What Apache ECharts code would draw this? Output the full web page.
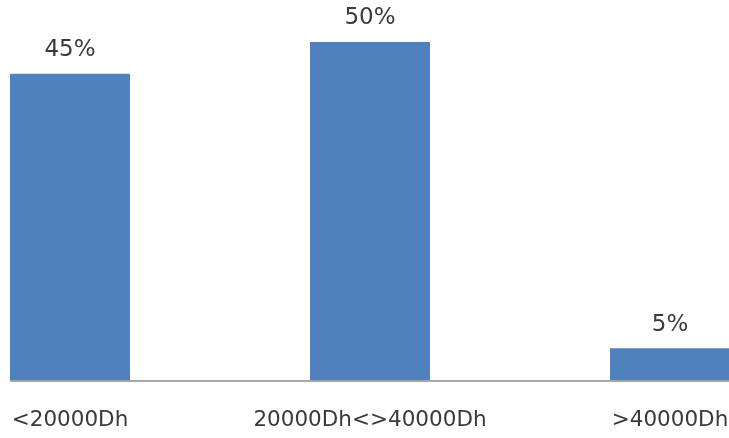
<!DOCTYPE html>
<html>
<head>
<meta charset="utf-8">
<script src="https://cdn.jsdelivr.net/npm/echarts@6/dist/echarts.min.js"></script>
<style>
html,body{margin:0;padding:0;background:#fff;}
#c{width:729px;height:438px;}
</style>
</head>
<body>
<div id="c"></div>
<script>
const categories = ['<20000Dh', '20000Dh<>40000Dh', '>40000Dh'];
const values = [45.3, 50, 4.7];
const valueLabels = ['45%', '50%', '5%'];

const chart = echarts.init(document.getElementById('c'), null, {renderer: 'canvas'});
const BAR_W = 120;
chart.setOption({
  animation: false,
  backgroundColor: '#ffffff',
  grid: {left: -80, width: 900, top: 42, bottom: 58, containLabel: false, outerBoundsMode: 'none'},
  xAxis: {
    type: 'category',
    data: categories,
    axisLine: {show: false},
    axisTick: {show: false},
    axisLabel: {
      interval: 0,
      margin: 29,
      color: '#3a3a3a',
      fontFamily: 'DejaVu Sans',
      fontWeight: 'normal',
      fontSize: 21.5
    }
  },
  yAxis: {
    type: 'value',
    min: 0,
    max: 50,
    show: false,
    splitLine: {show: false}
  },
  series: [{
    type: 'bar',
    data: values,
    barWidth: BAR_W,
    itemStyle: {color: '#4F81BD'},
    label: {
      show: true,
      position: 'top',
      distance: 12,
      color: '#3a3a3a',
      fontFamily: 'DejaVu Sans',
      fontSize: 23,
      formatter: p => valueLabels[p.dataIndex]
    }
  }]
});

const x0 = chart.convertToPixel({xAxisIndex: 0}, 0) - BAR_W / 2;
const y0 = chart.convertToPixel({yAxisIndex: 0}, 0);
chart.setOption({
  graphic: [{
    type: 'line',
    z: 100,
    shape: {x1: x0, y1: y0 + 1, x2: 729, y2: y0 + 1},
    style: {stroke: '#A6A6A6', lineWidth: 2}
  }]
});
</script>
</body>
</html>
